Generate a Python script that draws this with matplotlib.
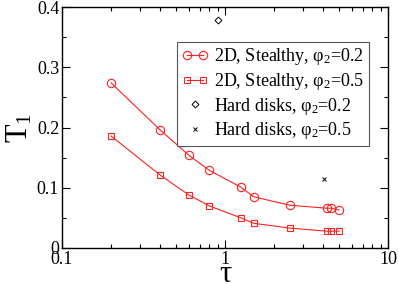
import matplotlib
matplotlib.use("Agg")
import matplotlib.pyplot as plt
from matplotlib.ticker import LogLocator, MultipleLocator, FixedLocator, FixedFormatter
from matplotlib.legend_handler import HandlerLine2D

plt.rcParams['font.family'] = ['Liberation Serif', 'DejaVu Serif']
plt.rcParams['mathtext.fontset'] = 'custom'
plt.rcParams['mathtext.rm'] = 'Liberation Serif'
plt.rcParams['mathtext.it'] = 'Liberation Serif:italic'

# stealthy data
tau = [0.2, 0.4, 0.6, 0.8, 1.25, 1.5, 2.5, 4.2, 4.5, 5.0]
t1_phi02 = [0.274, 0.196, 0.154, 0.129, 0.101, 0.085, 0.071, 0.066, 0.066, 0.063]
t1_phi05 = [0.186, 0.121, 0.088, 0.070, 0.050, 0.041, 0.033, 0.028, 0.028, 0.028]

# hard disks
hd_tau = [0.9, 4.07]
hd_t1 = [0.378, 0.114]

fig = plt.figure(figsize=(3.99, 2.84), dpi=100)
ax = fig.add_axes([62/399, 1-248/284, 326/399, 241/284])

ax.plot(tau, t1_phi02, color='#ff2020', lw=0.8, marker='o', ms=6, mfc='none',
        mec='#ff2020', mew=0.8, label='2D, Stealthy, φ$_2$=0.2')
ax.plot(tau, t1_phi05, color='#ff2020', lw=0.8, marker='s', ms=5, mfc='none',
        mec='#ff2020', mew=0.8, label='2D, Stealthy, φ$_2$=0.5')
hd1, = ax.plot(hd_tau[:1], hd_t1[:1], ls='none', marker='D', ms=3.5, mfc='none',
               mec='k', mew=0.7, label='Hard disks, φ$_2$=0.2')
hd2, = ax.plot(hd_tau[1:], hd_t1[1:], ls='none', marker='x', ms=3.5, color='k',
               mew=0.7, label='Hard disks, φ$_2$=0.5')

ax.set_xscale('log')
ax.set_xlim(0.1, 10)
ax.set_ylim(0, 0.4)
ax.xaxis.set_major_locator(FixedLocator([0.1, 1, 10]))
ax.xaxis.set_major_formatter(FixedFormatter(['0.1', '1', '10']))
ax.xaxis.set_minor_locator(LogLocator(base=10, subs=range(2, 10)))
ax.xaxis.set_minor_formatter(FixedFormatter([]))
ax.yaxis.set_minor_locator(MultipleLocator(0.05))
ax.set_yticks([0, 0.1, 0.2, 0.3, 0.4])
ax.set_yticklabels(['0', '0.1', '0.2', '0.3', '0.4'])

ax.tick_params(which='both', direction='in', top=True, right=True,
               labelsize=13, width=0.8, pad=2)
ax.tick_params(which='major', length=6)
ax.tick_params(which='minor', length=3)
for s in ax.spines.values():
    s.set_linewidth(1.0)

ax.set_xlabel('τ', fontsize=22)
ax.xaxis.set_label_coords(0.5, -34/241)
ax.xaxis.label.set_va('baseline')
ax.set_ylabel('T$_1$', fontsize=22, labelpad=2)

leg = ax.legend(loc='upper right', bbox_to_anchor=(0.942, 0.855), fontsize=13,
                numpoints=2, handlelength=1.5, handletextpad=0.3,
                labelspacing=0.2, borderpad=0.25, borderaxespad=0,
                fancybox=False, edgecolor='#555555', framealpha=1,
                handler_map={hd1: HandlerLine2D(numpoints=1),
                             hd2: HandlerLine2D(numpoints=1)})
leg.get_frame().set_linewidth(0.8)

fig.savefig('out.png', dpi=100)
